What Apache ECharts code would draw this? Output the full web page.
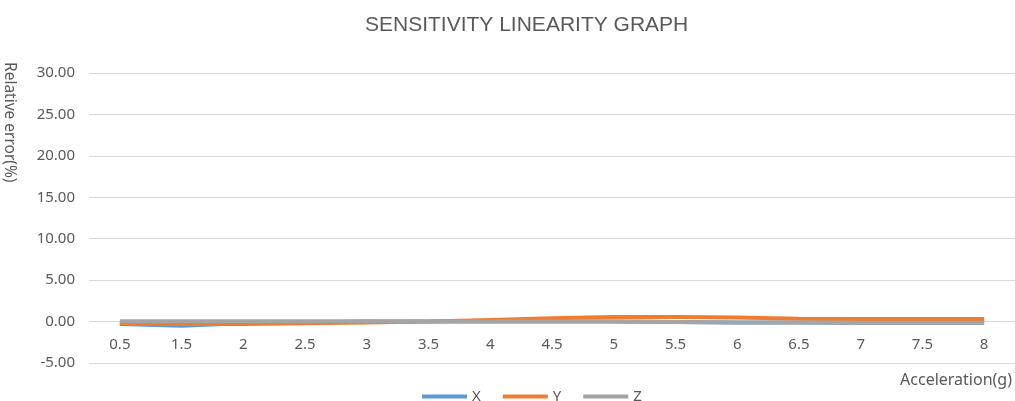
<!DOCTYPE html>
<html>
<head>
<meta charset="utf-8">
<script src="https://cdn.jsdelivr.net/npm/echarts@6/dist/echarts.min.js"></script>
<style>
html,body{margin:0;padding:0;background:#fff;}
#chart{width:1015px;height:401px;}
</style>
</head>
<body>
<div id="chart"></div>
<script>
const categories = ['0.5','1.5','2','2.5','3','3.5','4','4.5','5','5.5','6','6.5','7','7.5','8'];
const seriesX = [-0.3,-0.5,-0.2,-0.1,0,0,0,0,0,-0.05,-0.1,-0.1,-0.15,-0.15,-0.15];
const seriesY = [-0.2,-0.3,-0.3,-0.2,-0.1,0,0.2,0.4,0.55,0.55,0.5,0.35,0.3,0.3,0.3];
const seriesZ = [0.05,0.05,0.05,0.05,0.05,0,0,0,0,-0.05,-0.1,-0.1,-0.15,-0.15,-0.15];
const seriesNames = ['X','Y','Z'];
const colors = ['#5B9BD5','#ED7D31','#A5A5A5'];
const yTicks = {min: -5, max: 30, interval: 5};
const titleText = 'SENSITIVITY LINEARITY GRAPH';
const yName = 'Relative error(%)';
const xName = 'Acceleration(g)';

const labelColor = '#595959';
const gridColor = '#D9D9D9';
const font = 'Noto Sans';

const gridTop = 73, gridBottom = 38, H = 401;
const plotH = H - gridTop - gridBottom;
// move the category axis up so it sits on the zero line (like Excel's crossing at 0)
const zeroOffset = -plotH * (0 - yTicks.min) / (yTicks.max - yTicks.min);

const chart = echarts.init(document.getElementById('chart'), null, {renderer:'canvas'});
const dataSets = [seriesX, seriesY, seriesZ];
chart.setOption({
  animation: false,
  backgroundColor: '#fff',
  title: {
    text: titleText,
    left: 360,
    top: 10,
    textStyle: {fontFamily: 'Liberation Sans', fontSize: 21, fontWeight: 'normal', color: labelColor}
  },
  legend: {
    data: seriesNames,
    left: 417,
    top: 384,
    icon: 'rect',
    itemWidth: 45,
    itemHeight: 4,
    itemGap: 22,
    textStyle: {fontFamily: font, fontSize: 15, color: labelColor}
  },
  grid: {left: 89, right: 0, top: gridTop, bottom: gridBottom, containLabel: false},
  xAxis: {
    type: 'category',
    data: categories,
    boundaryGap: true,
    offset: zeroOffset,
    axisLine: {show: false, onZero: false},
    axisTick: {show: false},
    axisLabel: {fontFamily: font, fontSize: 15, color: labelColor, margin: 16, interval: 0},
    splitLine: {show: false}
  },
  yAxis: {
    type: 'value',
    min: yTicks.min,
    max: yTicks.max,
    interval: yTicks.interval,
    axisLine: {show: false},
    axisTick: {show: false},
    axisLabel: {fontFamily: font, fontSize: 15, color: labelColor, margin: 14,
      formatter: v => v.toFixed(2)},
    splitLine: {show: true, lineStyle: {color: gridColor, width: 1}}
  },
  graphic: [
    {type: 'text', x: 9, y: 62, rotation: -Math.PI/2,
      style: {text: yName, fontFamily: font, fontSize: 15.5, fill: labelColor, textAlign: 'left', textVerticalAlign: 'middle'}},
    {type: 'text', x: 1012, y: 380,
      style: {text: xName, fontFamily: font, fontSize: 16, fill: labelColor, textAlign: 'right', textVerticalAlign: 'middle'}}
  ],
  series: seriesNames.map((n, i) => ({
    name: n,
    type: 'line',
    data: dataSets[i],
    symbol: 'none',
    showSymbol: false,
    color: colors[i],
    lineStyle: {width: 4, color: colors[i], cap: 'butt'},
    z: 2 + i
  }))
});
</script>
</body>
</html>
